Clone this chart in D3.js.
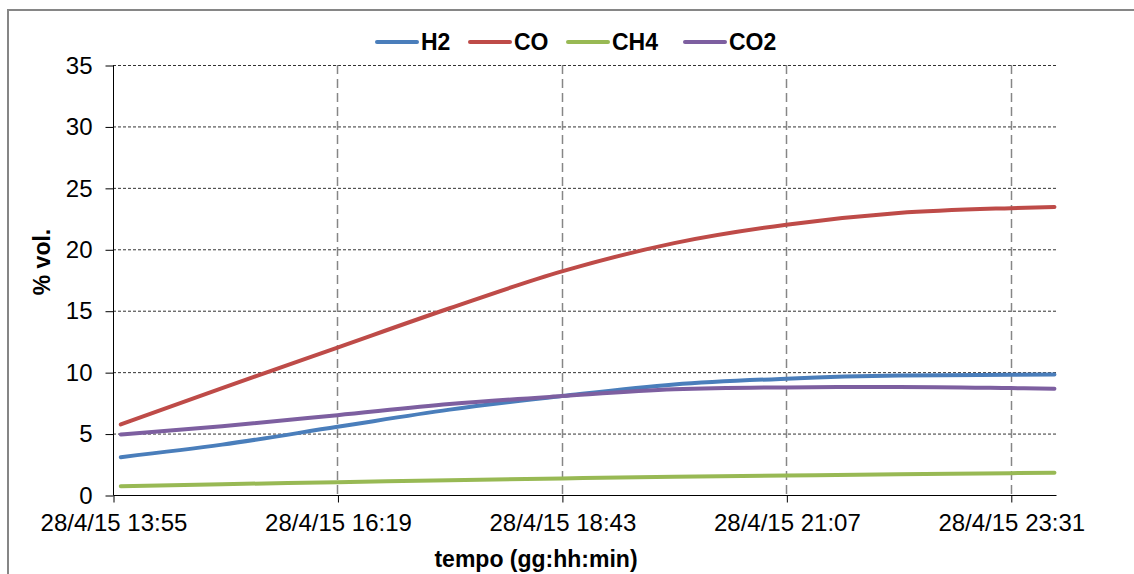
<!DOCTYPE html>
<html>
<head>
<meta charset="utf-8">
<script src="https://cdn.jsdelivr.net/npm/d3@7/dist/d3.min.js"></script>
<style>
  html, body { margin: 0; padding: 0; background: #fff; }
  svg { display: block; font-family: "Liberation Sans", Arial, sans-serif; }
</style>
</head>
<body>
<svg id="chart" width="1134" height="574"></svg>
<script>
// ---- data ----
const times = ["28/4/15 14:00", "28/4/15 15:05", "28/4/15 16:19", "28/4/15 17:31", "28/4/15 18:43",
               "28/4/15 19:55", "28/4/15 21:07", "28/4/15 22:19", "28/4/15 23:31", "28/4/15 23:59"];
const H2  = [3.08, 4.1, 5.55, 6.95, 8.05, 9.0, 9.47, 9.72, 9.78, 9.8];
const CO  = [5.74, 8.7, 12.0, 15.2, 18.2, 20.5, 22.0, 22.95, 23.35, 23.45];
const CH4 = [0.72, 0.88, 1.04, 1.2, 1.35, 1.48, 1.59, 1.69, 1.78, 1.82];
const CO2 = [4.93, 5.6, 6.5, 7.4, 8.05, 8.6, 8.76, 8.79, 8.7, 8.65];
const seriesNames = ["H2", "CO", "CH4", "CO2"];
const seriesColors = ["#4A7EBB", "#BE4B48", "#98B954", "#7D5FA0"];
const xTickLabels = ["28/4/15 13:55", "28/4/15 16:19", "28/4/15 18:43", "28/4/15 21:07", "28/4/15 23:31"];
const xDomain = ["28/4/15 13:55", "29/4/15 00:00"];
const yTicks = [0, 5, 10, 15, 20, 25, 30, 35];
const yLabel = "% vol.";
const xLabel = "tempo (gg:hh:min)";

// ---- setup ----
const parse = d3.timeParse("%d/%m/%y %H:%M");
const fmt = d3.timeFormat("%-d/%-m/%y %H:%M");
const svg = d3.select("#chart");
const L = 113, R = 1056, T = 65, B = 495;

const x = d3.scaleTime().domain(xDomain.map(parse)).range([L, R]);
const y = d3.scaleLinear().domain([0, 35]).range([B, T]);

// outer border
svg.append("rect").attr("x", 8).attr("y", 10).attr("width", 1140).attr("height", 620)
  .attr("fill", "none").attr("stroke", "#868686").attr("stroke-width", 2);

// horizontal gridlines
svg.append("g").selectAll("line").data(yTicks.filter(d => d > 0)).join("line")
  .attr("x1", L).attr("x2", R).attr("y1", d => y(d) + 0.5).attr("y2", d => y(d) + 0.5)
  .attr("stroke", "#000").attr("stroke-width", 1).attr("stroke-dasharray", "3,2").attr("opacity", 0.8);

// vertical gridlines
const xTickDates = xTickLabels.map(parse);
svg.append("g").selectAll("line").data(xTickDates.slice(1)).join("line")
  .attr("x1", d => Math.round(x(d)) + 0.5).attr("x2", d => Math.round(x(d)) + 0.5)
  .attr("y1", T).attr("y2", B)
  .attr("stroke", "#868686").attr("stroke-width", 1.5).attr("stroke-dasharray", "9,5");

// y axis
const yAxis = d3.axisLeft(y).tickValues(yTicks).tickSize(8).tickPadding(13).tickFormat(d3.format("d"));
const gy = svg.append("g").attr("transform", `translate(${L + 0.5},0.5)`).call(yAxis);
gy.select(".domain").attr("stroke", "#000").attr("d", `M0,${T}V${B}`);
gy.selectAll(".tick line").attr("stroke", "#000");
gy.selectAll(".tick text").attr("font-size", 24).attr("fill", "#000")
  .attr("font-family", "Liberation Sans, Arial, sans-serif");

// x axis
const xAxis = d3.axisBottom(x).tickValues(xTickDates).tickSize(7).tickPadding(11).tickFormat(fmt);
const gx = svg.append("g").attr("transform", `translate(0.5,${B + 0.5})`).call(xAxis);
gx.select(".domain").attr("stroke", "#000").attr("d", `M${L},0H${R}`);
gx.selectAll(".tick line").attr("stroke", "#000");
gx.selectAll(".tick text").attr("font-size", 24).attr("fill", "#000")
  .attr("font-family", "Liberation Sans, Arial, sans-serif");

// series lines
const allSeries = [H2, CO, CH4, CO2];
const tDates = times.map(parse);
const line = d3.line().x(d => x(d[0])).y(d => y(d[1])).curve(d3.curveMonotoneX);
allSeries.forEach((vals, i) => {
  svg.append("path").datum(tDates.map((t, j) => [t, vals[j]]))
    .attr("d", line).attr("fill", "none")
    .attr("stroke", seriesColors[i]).attr("stroke-width", 4).attr("stroke-linecap", "round");
});

// legend
const legendX = [377, 470, 568, 685];
const lg = svg.append("g");
seriesNames.forEach((n, i) => {
  lg.append("line").attr("x1", legendX[i]).attr("x2", legendX[i] + 40)
    .attr("y1", 42).attr("y2", 42).attr("stroke", seriesColors[i]).attr("stroke-width", 4)
    .attr("stroke-linecap", "round");
  lg.append("text").attr("x", legendX[i] + 44).attr("y", 50).text(n)
    .attr("font-size", 23).attr("font-weight", "bold").attr("fill", "#000");
});

// axis titles
svg.append("text").attr("transform", "translate(50,262) rotate(-90)")
  .attr("text-anchor", "middle").attr("font-size", 23).attr("font-weight", "bold").text(yLabel);
svg.append("text").attr("x", 536).attr("y", 567).attr("text-anchor", "middle")
  .attr("font-size", 23).attr("font-weight", "bold").text(xLabel);
</script>
</body>
</html>
